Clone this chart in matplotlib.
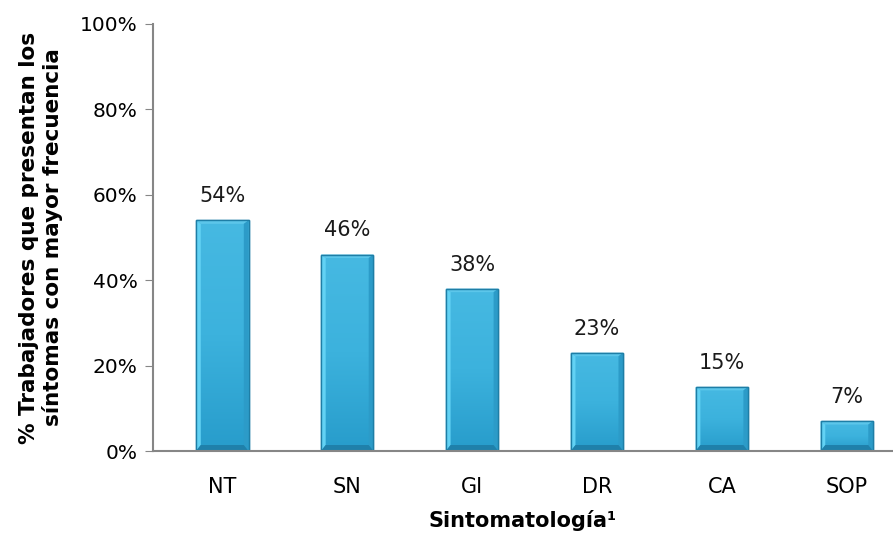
import matplotlib
matplotlib.use("Agg")
import matplotlib.pyplot as plt
from matplotlib.patches import Polygon
from matplotlib.colors import LinearSegmentedColormap
import numpy as np

categories = ["NT", "SN", "GI", "DR", "CA", "SOP"]
values = [54, 46, 38, 23, 15, 7]
yticks = [0, 20, 40, 60, 80, 100]

plt.rcParams["font.family"] = ["DejaVu Sans"]

fig = plt.figure(figsize=(8.93, 5.38), dpi=100)
ax = fig.add_axes([0.1713, 0.1617, 0.8287, 0.7937])

x = np.arange(len(categories))
width = 0.42
bars = ax.bar(x, values, width=width, color="#34A9D7", edgecolor="#1E7EA6",
              linewidth=1.0, zorder=2)

fill_cmap = LinearSegmentedColormap.from_list("barfill", ["#279CCB", "#3CB2DD", "#46B9E2"])
grad = np.linspace(0, 1, 256).reshape(-1, 1)

# gradient fill plus bevel on each bar
for b in bars:
    x0, y0 = b.get_x(), b.get_y()
    w, h = b.get_width(), b.get_height()
    im = ax.imshow(grad, cmap=fill_cmap, origin="lower", aspect="auto",
                   extent=(x0, x0 + w, y0, y0 + h), zorder=2.5)
    im.set_clip_path(b)
    bx = w * 0.09
    by = min(0.8, h * 0.2)
    bb = min(1.4, h * 0.2)
    ax.add_patch(Polygon([[x0, y0], [x0 + bx, y0 + bb], [x0 + bx, y0 + h - by], [x0, y0 + h]],
                         closed=True, facecolor="#62D2F4", edgecolor="none", zorder=3))
    ax.add_patch(Polygon([[x0, y0 + h], [x0 + bx, y0 + h - by], [x0 + w - bx, y0 + h - by], [x0 + w, y0 + h]],
                         closed=True, facecolor="#5CC6EA", edgecolor="none", zorder=3))
    ax.add_patch(Polygon([[x0 + w, y0], [x0 + w - bx, y0 + bb], [x0 + w - bx, y0 + h - by], [x0 + w, y0 + h]],
                         closed=True, facecolor="#2C9BC8", edgecolor="none", zorder=3))
    ax.add_patch(Polygon([[x0, y0], [x0 + bx, y0 + bb], [x0 + w - bx, y0 + bb], [x0 + w, y0]],
                         closed=True, facecolor="#1F80AA", edgecolor="none", zorder=3))
    ax.add_patch(plt.Rectangle((x0, y0), w, h, facecolor="none", edgecolor="#1E7EA6",
                               linewidth=1.0, zorder=4))
    ax.text(b.get_x() + w / 2, h + 3.3, f"{int(h)}%", ha="center", va="bottom",
            fontsize=15, color="#1a1a1a")

ax.set_xlim(-0.555, 5.37)
ax.set_ylim(0, 100)
ax.set_yticks(yticks)
ax.set_yticklabels([f"{t}%" for t in yticks], fontsize=14.5)
ax.set_xticks(x)
ax.set_xticklabels(categories, fontsize=15)
ax.tick_params(axis="x", length=0, pad=19)
ax.tick_params(axis="y", length=6, color="#868686", pad=5)

for s in ["top", "right"]:
    ax.spines[s].set_visible(False)
for s in ["left", "bottom"]:
    ax.spines[s].set_color("#868686")
    ax.spines[s].set_linewidth(1.5)
    ax.spines[s].set_zorder(5)

ax.set_xlabel("Sintomatología¹", fontsize=15, fontweight="bold", labelpad=9)
ax.set_ylabel("% Trabajadores que presentan los\nsíntomas con mayor frecuencia",
              fontsize=15.5, fontweight="bold", labelpad=12, linespacing=1.2)

fig.savefig("out.png", dpi=100)
